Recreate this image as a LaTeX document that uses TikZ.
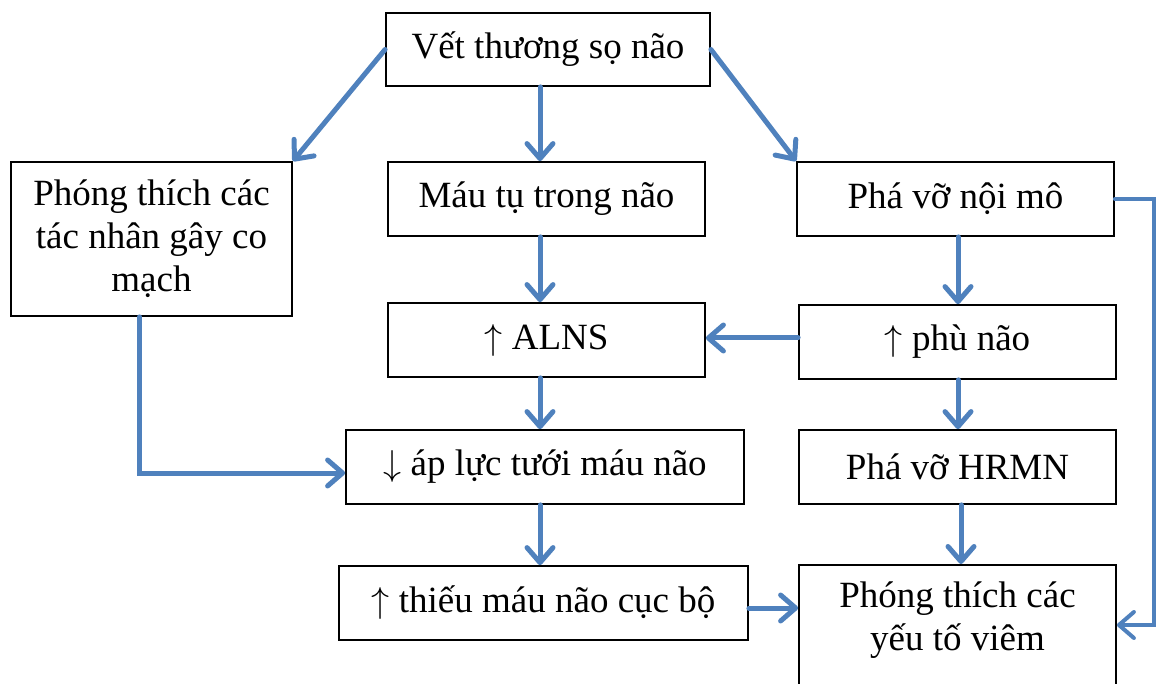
\documentclass[tikz,border=0pt]{standalone}
\usepackage{fontspec}
\setmainfont{Liberation Serif}
\usetikzlibrary{arrows.meta}
\definecolor{arrblue}{RGB}{79,129,189}
\newcommand\myup{\scalebox{1.45}{$\uparrow$}}
\newcommand\mydown{\scalebox{1.45}{$\downarrow$}}
\begin{document}
\begin{tikzpicture}[x=1pt,y=-1pt,
  txt/.style={inner sep=0pt, align=center, font=\fontsize{37}{43}\selectfont},
  box/.style={txt, draw=black, line width=1.8pt},
  arr/.style={draw=arrblue, line width=5pt, line cap=round, -{Straight Barb[length=15pt,width=26pt,round]}},
]
\useasboundingbox (0,0) rectangle (1157,684);
\node[box, minimum width=324pt, minimum height=73pt] (b1) at (548,49.5) {Vết thương sọ não};
\node[box, minimum width=281pt, minimum height=154pt] (b2) at (151.5,239) {Phóng thích các\\tác nhân gây co\\mạch};
\node[box, minimum width=317pt, minimum height=74pt] (b3) at (546.5,199) {Máu tụ trong não};
\node[box, minimum width=317pt, minimum height=74pt] (b4) at (955.5,199) {Phá vỡ nội mô};
\node[box, minimum width=317pt, minimum height=74pt] (b5) at (546.5,340) {\myup{} ALNS};
\node[box, minimum width=317pt, minimum height=74pt] (b6) at (957.5,342) {\myup{} phù não};
\node[box, minimum width=398pt, minimum height=74pt] (b7) at (545,467) {\mydown{} áp lực tưới máu não};
\node[box, minimum width=317pt, minimum height=74pt] (b8) at (957.5,467) {Phá vỡ HRMN};
\node[box, minimum width=409pt, minimum height=74pt] (b9) at (543.5,603) {\myup{} thiếu máu não cục bộ};
\node[box, anchor=north, minimum width=317pt, minimum height=160pt] (b10) at (957.5,564) {};
\node[txt] (b10t) at (957.5,620) {Phóng thích các\\yếu tố viêm};
\coordinate (mx) at (540,0);
\coordinate (rx) at (958,0);
\coordinate (rx2) at (961,0);
\coordinate (r) at (1154,625);
% connectors
\draw[arr] (b1.west) -- (b2.north east);
\draw[arr] (b1.east) -- (b4.north west);
\draw[arr] (b1.south -| mx) -- (b3.north -| mx);
\draw[arr] (b3.south -| mx) -- (b5.north -| mx);
\draw[arr] (b5.south -| mx) -- (b7.north -| mx);
\draw[arr] (b7.south -| mx) -- (b9.north -| mx);
\draw[arr] (b4.south -| rx) -- (b6.north -| rx);
\draw[arr] (b6.south -| rx) -- (b8.north -| rx);
\draw[arr] (b8.south -| rx2) -- (b10.north -| rx2);
\draw[arr] ([yshift=4pt]b6.west) -- ([yshift=4pt]b6.west -| b5.east);
\draw[arr] ([xshift=-12pt]b2.south) |- ([yshift=-6pt]b7.west);
\draw[arr] ([yshift=-5pt]b9.east) -- ([yshift=-5pt]b9.east -| b10.west);
\draw[arr, line width=4pt] (b4.east) -| (r) -- (r -| b10.east);
\end{tikzpicture}
\end{document}
